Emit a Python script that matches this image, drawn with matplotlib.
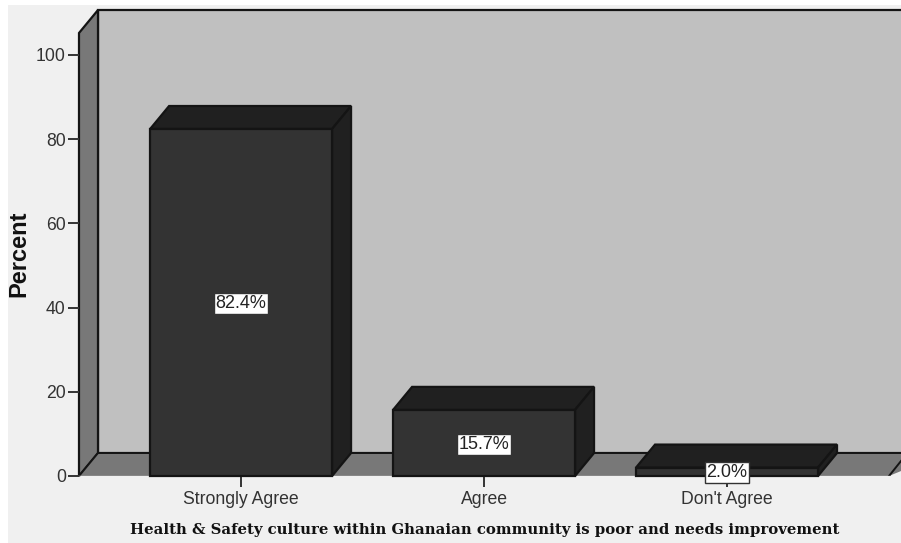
import matplotlib
matplotlib.use('Agg')
import matplotlib.pyplot as plt
from matplotlib.patches import Polygon, Rectangle

# Values
categories = ['Strongly Agree', 'Agree', "Don't Agree"]
percents = [82.4, 15.7, 2.0]
yticks = [0, 20, 40, 60, 80, 100]
xlabel = 'Health & Safety culture within Ghanaian community is poor and needs improvement'
ylabel = 'Percent'

W, H = 901, 543
fig = plt.figure(figsize=(W / 100, H / 100), dpi=100, facecolor='white')

# Grey chart background, leaves a thin white margin left and top
fig.patches.append(Rectangle((8 / W, 0), 1 - 8 / W, 1 - 5 / H, transform=fig.transFigure,
                             facecolor='#f0f0f0', edgecolor='none', zorder=-5))

# Axes placed so 0 and 100 land on the same pixels as the original
ax = fig.add_axes([79 / W, (H - 476) / H, (W - 79) / W, (476 - 33) / H])
ax.set_xlim(-0.667, 2.716)
ax.set_ylim(0, 105.2)
ax.patch.set_visible(False)
for s in ax.spines.values():
    s.set_visible(False)

# 3D depth in data units
dx = 19 / 243
dy = 23 / 4.21
bar_w = 182 / 243
x0, x1 = ax.get_xlim()
y1 = ax.get_ylim()[1]
line = '#141414'


def poly(pts, color, z=1, lw=1.6):
    ax.add_patch(Polygon(pts, closed=True, facecolor=color, edgecolor=line, linewidth=lw,
                         joinstyle='miter', zorder=z, clip_on=False))


# Back wall, side wall and floor
poly([(x0 + dx, dy), (x0 + dx, y1 + dy), (x1 + 0.1, y1 + dy), (x1 + 0.1, dy)], '#c0c0c0')
poly([(x0, 0), (x0, y1), (x0 + dx, y1 + dy), (x0 + dx, dy)], '#787878')
poly([(x0, 0), (x0 + dx, dy), (x1 + 0.1, dy), (x1 + 0.1, 0)], '#787878', lw=0)
ax.plot([x0 + dx, x1], [dy, dy], color=line, lw=1.4, zorder=1.5)
ax.plot([x0, x0 + dx], [0, dy], color=line, lw=1.4, zorder=1.6)
# Floor stops at a slanted edge on the right, background shows below it
ax.add_patch(Polygon([(x1 - 12 / 243, 0), (x1 + 0.1, 15 / 4.21), (x1 + 0.1, 0)], closed=True,
                     facecolor='#f0f0f0', edgecolor='none', zorder=1.55, clip_on=False))
ax.plot([x1 - 12 / 243, x1], [0, 15 / 4.21], color=line, lw=1.4, zorder=1.6)
ax.plot([x0, x1 - 12 / 243], [0, 0], color='#c8c8c8', lw=1, zorder=1.6)

# Bars
for i, p in enumerate(percents):
    l = i - bar_w / 2
    r = i + bar_w / 2
    poly([(l, p), (l + dx, p + dy), (r + dx, p + dy), (r, p)], '#202020', z=2)
    poly([(r, 0), (r + dx, dy), (r + dx, p + dy), (r, p)], '#202020', z=2)
    poly([(l, 0), (l, p), (r, p), (r, 0)], '#333333', z=3)
    ax.text(i, p / 2 - 0.3 if p > 5 else 0.9, f'{p:.1f}%', ha='center', va='center', fontsize=13,
            family='Liberation Sans', color='#222222', zorder=5,
            bbox=dict(boxstyle='square,pad=0.1', facecolor='white', edgecolor='#333333', linewidth=1.0))

# Axis ticks and text
ax.set_yticks(yticks)
ax.set_xticks(range(len(categories)))
ax.set_xticklabels(categories)
ax.tick_params(axis='y', length=8, width=1.4, color='#333333', pad=1.5, labelsize=12.7, labelcolor='#333333')
ax.tick_params(axis='x', length=8, width=1.4, color='#333333', pad=2.5, labelsize=12.7, labelcolor='#333333')
for t in ax.get_xticklabels() + ax.get_yticklabels():
    t.set_family('Liberation Sans')

fig.text(19 / W, 1 - 254 / H, ylabel, rotation=90, ha='center', va='center', fontsize=17,
         fontweight='bold', family='Liberation Sans', color='#111111')
fig.text(485 / W, 1 - 530 / H, xlabel, ha='center', va='center', fontsize=10.7,
         fontweight='bold', family='DejaVu Serif', color='#111111')

fig.savefig('out.png', dpi=100, facecolor='white')
